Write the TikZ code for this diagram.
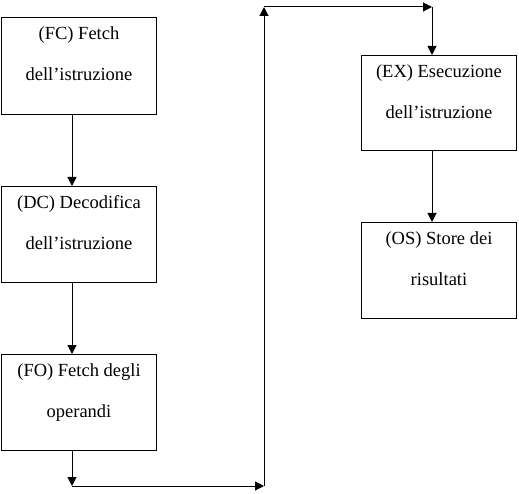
\documentclass[tikz,border=0pt]{standalone}
\usepackage{fontspec}
\setmainfont{Liberation Serif}
\usetikzlibrary{arrows.meta}
\newcommand{\boxtext}[3]{\parbox[t][#1][t]{155pt}{\fontsize{18.5}{41}\selectfont\centering\rule{0pt}{22pt}#2\\#3\par}}
\begin{document}
\begin{tikzpicture}[x=1pt,y=-1pt,
  box/.style={draw, line width=1pt, inner sep=0pt, anchor=north west},
  arr/.style={draw, line width=1pt, -{Triangle[length=9pt,width=9pt]}},
  ln/.style={draw, line width=1pt}]
\useasboundingbox (0,0) rectangle (519,494);
\node[box] (fc) at (1,17) {\boxtext{97pt}{(FC) Fetch}{dell’istruzione}};
\node[box] (dc) at (1,186) {\boxtext{96pt}{(DC) Decodifica}{dell’istruzione}};
\node[box] (fo) at (1,354) {\boxtext{96pt}{(FO) Fetch degli}{operandi}};
\node[box] (ex) at (361,55) {\boxtext{95pt}{(EX) Esecuzione}{dell’istruzione}};
\node[box] (os) at (361,222) {\boxtext{96pt}{(OS) Store dei}{risultati}};
\coordinate (c1) at (72,486);
\coordinate (c2) at (264,486);
\coordinate (c3) at (264,7);
\coordinate (c4) at (432,7);
\draw[arr] (fc.south -| c1) -- (dc.north -| c1);
\draw[arr] (dc.south -| c1) -- (fo.north -| c1);
\draw[arr] (fo.south -| c1) -- (c1);
\draw[arr] (c1) -- (c2);
\draw[arr] (c2) -- (c3);
\draw[arr] (c3) -- (c4);
\draw[arr] (c4) -- (ex.north -| c4);
\draw[arr] (ex.south -| c4) -- (os.north -| c4);
\end{tikzpicture}
\end{document}
